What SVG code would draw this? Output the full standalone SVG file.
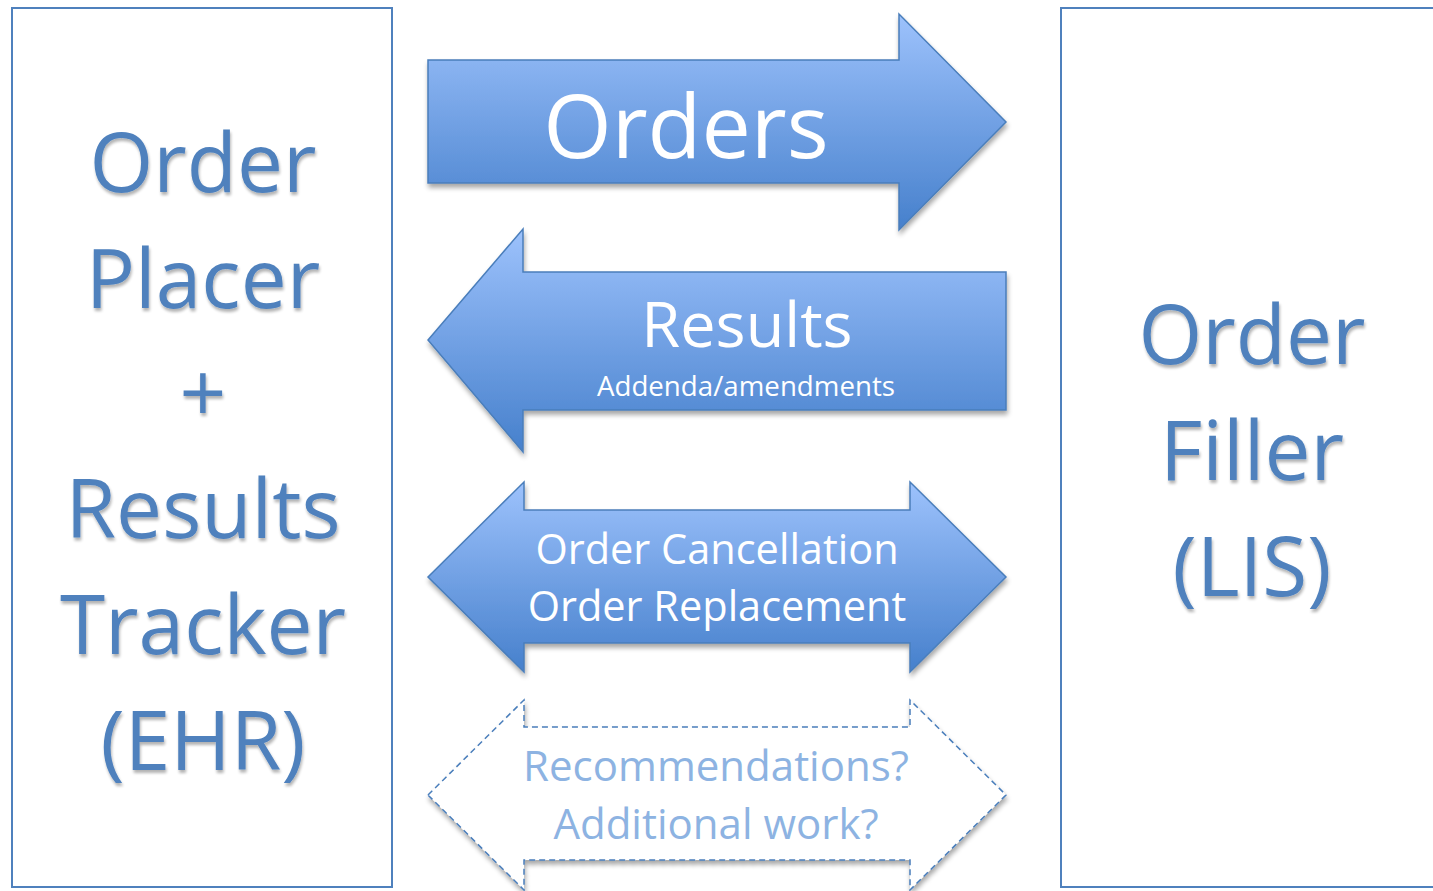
<svg xmlns="http://www.w3.org/2000/svg" width="1433" height="891" viewBox="0 0 1433 891">
<defs>
  <linearGradient id="g" x1="0" y1="0" x2="0" y2="1">
    <stop offset="0" stop-color="#9dc2fc"/>
    <stop offset="1" stop-color="#4680cc"/>
  </linearGradient>
  <filter id="sh" x="-10%" y="-10%" width="120%" height="130%">
    <feGaussianBlur in="SourceAlpha" stdDeviation="2.5"/>
    <feOffset dx="1" dy="4" result="b"/>
    <feComponentTransfer><feFuncA type="linear" slope="0.35"/></feComponentTransfer>
    <feMerge><feMergeNode/><feMergeNode in="SourceGraphic"/></feMerge>
  </filter>
  <filter id="tsh" x="-10%" y="-10%" width="120%" height="130%">
    <feGaussianBlur in="SourceAlpha" stdDeviation="1.5"/>
    <feOffset dx="1" dy="3"/>
    <feComponentTransfer><feFuncA type="linear" slope="0.3"/></feComponentTransfer>
    <feMerge><feMergeNode/><feMergeNode in="SourceGraphic"/></feMerge>
  </filter>
</defs>
<style>
  .box { fill: #ffffff; stroke: #4f81bd; stroke-width: 2; }
  .big { font-family: "Open Sans", "Noto Sans", sans-serif; font-size: 82px; fill: #4f81bd; text-anchor: middle; }
  .arrow { fill: url(#g); stroke: #4a7ebb; stroke-width: 1.5; }
  .dash { fill: #ffffff; stroke: #4a7ebb; stroke-width: 1.5; stroke-dasharray: 6 4; }
  .wt { font-family: "Open Sans", "Noto Sans", sans-serif; fill: #ffffff; text-anchor: middle; }
  .lt { font-family: "Open Sans", "Noto Sans", sans-serif; fill: #8db3e2; text-anchor: middle; font-size: 42px; }
</style>
<rect width="1433" height="891" fill="#ffffff"/>

<g id="order-placer">
  <rect class="box" x="12" y="8" width="380" height="879"/>
  <g filter="url(#tsh)">
    <text class="big" x="203" y="192">Order</text>
    <text class="big" x="203" y="308">Placer</text>
    <text class="big" x="203" y="422">+</text>
    <text class="big" x="203" y="538">Results</text>
    <text class="big" x="203" y="654" font-size="81">Tracker</text>
    <text class="big" x="203" y="770">(EHR)</text>
  </g>
</g>

<g id="order-filler">
  <rect class="box" x="1061" y="8" width="390" height="879"/>
  <g filter="url(#tsh)">
    <text class="big" x="1252" y="364">Order</text>
    <text class="big" x="1252" y="480">Filler</text>
    <text class="big" x="1252" y="596">(LIS)</text>
  </g>
</g>

<g id="connectors">
  <g id="orders">
    <path class="arrow" filter="url(#sh)" d="M428,60 H899 V14 L1006,122 L899,230 V183 H428 Z"/>
    <text class="wt" x="686" y="158" font-size="88">Orders</text>
  </g>
  <g id="results">
    <path class="arrow" filter="url(#sh)" d="M1006,272 H523 V229 L428,340 L523,452 V410 H1006 Z"/>
    <text class="wt" x="747" y="347" font-size="63">Results</text>
    <text class="wt" x="746" y="396" font-size="27.7">Addenda/amendments</text>
  </g>
  <g id="cancel-replace">
    <path class="arrow" filter="url(#sh)" d="M428,577 L524,482 V510 H910 V482 L1006,577 L910,672 V643 H524 V672 Z"/>
    <text class="wt" x="717" y="564" font-size="41.5">Order Cancellation</text>
    <text class="wt" x="717" y="621" font-size="41.5">Order Replacement</text>
  </g>
  <g id="recommendations">
    <path class="dash" filter="url(#sh)" d="M428,795 L524,700 V727 H910 V700 L1006,795 L910,890 V860 H524 V890 Z"/>
    <text class="lt" x="716" y="781">Recommendations?</text>
    <text class="lt" x="716" y="839">Additional work?</text>
  </g>
</g>
</svg>
